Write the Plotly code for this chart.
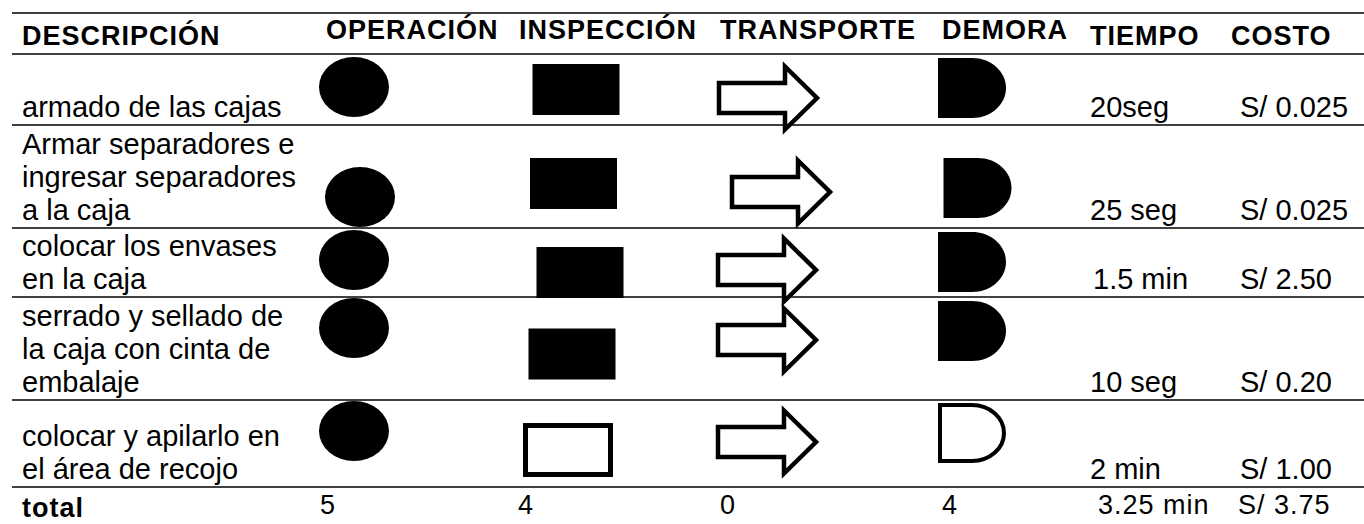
import plotly.graph_objects as go

# ---------------- data ----------------
encabezados = ["DESCRIPCIÓN", "OPERACIÓN", "INSPECCIÓN", "TRANSPORTE", "DEMORA", "TIEMPO", "COSTO"]
descripcion = [
    ["armado de las cajas"],
    ["Armar separadores e", "ingresar separadores", "a la caja"],
    ["colocar los envases", "en la caja"],
    ["serrado y sellado de", "la caja con cinta de", "embalaje"],
    ["colocar y apilarlo en", "el área de recojo"],
]
operacion = [1, 1, 1, 1, 1]    # 1 = filled symbol, 0 = outline
inspeccion = [1, 1, 1, 1, 0]
transporte = [0, 0, 0, 0, 0]
demora = [1, 1, 1, 1, 0]
tiempo = ["20seg", "25 seg", "1.5 min", "10 seg", "2 min"]
costo = ["S/ 0.025", "S/ 0.025", "S/ 2.50", "S/ 0.20", "S/ 1.00"]
total_label = "total"
totales = ["5", "4", "0", "4", "3.25 min", "S/ 3.75"]

# ---------------- layout constants ----------------
W, H = 1364, 524
FONT = "Liberation Sans, Arial, sans-serif"
row_lines = [13, 54, 125, 228, 297, 400, 487]
header_x = [22, 412, 608, 818, 1005, 1145, 1281]
header_anchor = ["left", "center", "center", "center", "center", "center", "center"]
header_base = [45, 39, 39, 39, 39, 45, 45]
op_pos = [(354, 87), (360, 197), (354, 260), (354, 328), (354, 431)]
insp_pos = [(576, 89.5), (573.5, 183.5), (580, 272.5), (572, 354), (568, 450)]
tr_pos = [(768, 98), (781, 192), (767, 270), (767, 340), (767, 442)]
dem_pos = [(972, 88), (977.5, 188), (972, 262), (972, 331), (972, 433)]
tiempo_x = [1090, 1090, 1093, 1090, 1090]
costo_x = 1240
totals_x = [320, 518, 720, 942, 1098, 1238]
BODY = 29
LINE_SP = 33

fig = go.Figure()
fig.add_trace(go.Scatter(x=[0, W], y=[0, H], mode="markers", marker=dict(opacity=0),
                         hoverinfo="skip", showlegend=False))


def add_text(x, baseline, text, size, anchor="left"):
    fig.add_annotation(x=x - (2 if anchor == "left" else 0), y=baseline - 0.35 * size,
                       text=text, xref="x", yref="y", xanchor=anchor, yanchor="middle",
                       showarrow=False, font=dict(size=size, color="black", family=FONT))


# horizontal rules
for yl in row_lines:
    fig.add_shape(type="line", x0=12, x1=W, y0=yl, y1=yl, xref="x", yref="y",
                  line=dict(color="black", width=1.5))

# headers
for txt, hx, anc, hb in zip(encabezados, header_x, header_anchor, header_base):
    add_text(hx, hb, '<b><span style="letter-spacing:1px">%s</span></b>' % txt, 27, anc)

k = 0.5523
for i in range(len(descripcion)):
    bottom = row_lines[i + 2]
    last_base = bottom - 8
    lines = descripcion[i]
    for j, ln in enumerate(lines):
        add_text(22, last_base - (len(lines) - 1 - j) * LINE_SP, ln, BODY)
    add_text(tiempo_x[i], last_base, tiempo[i], BODY)
    add_text(costo_x, last_base, costo[i], BODY)

    # operación: ellipse
    cx, cy = op_pos[i]
    fill = operacion[i] == 1
    ins = 0 if fill else 2
    fig.add_shape(type="circle", x0=cx - 35 + ins, x1=cx + 35 - ins, y0=cy - 30 + ins, y1=cy + 30 - ins,
                  fillcolor="black" if fill else "white",
                  line=dict(color="black", width=0 if fill else 4))

    # inspección: rectangle
    cx, cy = insp_pos[i]
    fill = inspeccion[i] == 1
    if fill:
        fig.add_shape(type="rect", x0=cx - 43.5, x1=cx + 43.5, y0=cy - 25.5, y1=cy + 25.5,
                      fillcolor="black", line=dict(width=0))
    else:
        fig.add_shape(type="rect", x0=cx - 42.5, x1=cx + 42.5, y0=cy - 24.5, y1=cy + 24.5,
                      fillcolor="white", line=dict(color="black", width=5))

    # transporte: block arrow
    cx, cy = tr_pos[i]
    fill = transporte[i] == 1
    L, T, B = cx - 49, cx + 49, cx + 17
    bh, hh = 15, 31.5
    path = ("M %.1f %.1f L %.1f %.1f L %.1f %.1f L %.1f %.1f L %.1f %.1f L %.1f %.1f L %.1f %.1f Z" %
            (L, cy - bh, B, cy - bh, B, cy - hh, T, cy, B, cy + hh, B, cy + bh, L, cy + bh))
    fig.add_shape(type="path", path=path, fillcolor="black" if fill else "white",
                  line=dict(color="black", width=4.5))

    # demora: D shape
    cx, cy = dem_pos[i]
    fill = demora[i] == 1
    ins = 0 if fill else 2
    x0, x1 = cx - 34 + ins, cx + 34 - ins
    y0, y1 = cy - 30 + ins, cy + 30 - ins
    xm = cx
    rx, ry = x1 - xm, (y1 - y0) / 2
    path = ("M %.1f %.1f L %.1f %.1f C %.1f %.1f %.1f %.1f %.1f %.1f C %.1f %.1f %.1f %.1f %.1f %.1f L %.1f %.1f Z" %
            (x0, y0, xm, y0,
             xm + k * rx, y0, x1, cy - k * ry, x1, cy,
             x1, cy + k * ry, xm + k * rx, y1, xm, y1,
             x0, y1))
    fig.add_shape(type="path", path=path, fillcolor="black" if fill else "white",
                  line=dict(color="black", width=0 if fill else 4))

# totals row
add_text(22, 517, '<b><span style="letter-spacing:1px">%s</span></b>' % total_label, 27)
for tx, tv in zip(totals_x, totales):
    add_text(tx, 514, '<span style="letter-spacing:1px">%s</span>' % tv, 27)

fig.update_layout(
    width=W, height=H, margin=dict(l=0, r=0, t=0, b=0),
    paper_bgcolor="white", plot_bgcolor="white", showlegend=False,
    xaxis=dict(range=[0, W], visible=False, fixedrange=True),
    yaxis=dict(range=[H, 0], visible=False, fixedrange=True),
)

fig.write_html("out.html", config={"displayModeBar": False},
               post_script="document.body.style.margin='0';document.body.style.overflow='hidden';")
